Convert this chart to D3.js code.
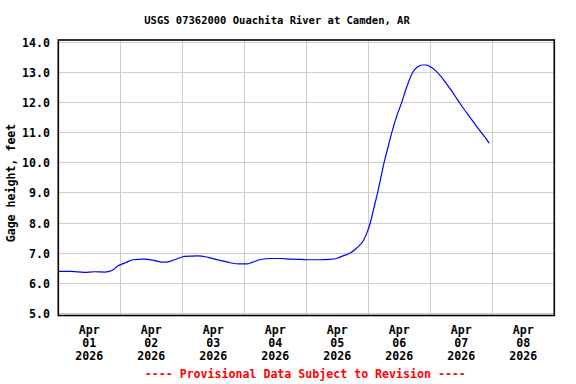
<!DOCTYPE html>
<html>
<head>
<meta charset="utf-8">
<script src="https://cdn.jsdelivr.net/npm/d3@7"></script>
<style>
  body { margin: 0; background: #ffffff; }
  text { font-family: "DejaVu Sans Mono", "Liberation Mono", monospace; font-weight: bold; }
</style>
</head>
<body>
<svg id="svg"></svg>
<script>
// gage height readings, Apr 01 - Apr 07 2026
const times = [
  "2026-04-01T00:00", "2026-04-01T05:00", "2026-04-01T10:00", "2026-04-01T14:00",
  "2026-04-01T18:00", "2026-04-01T20:45", "2026-04-01T23:00", "2026-04-02T02:00",
  "2026-04-02T05:00", "2026-04-02T09:00", "2026-04-02T13:00", "2026-04-02T16:00",
  "2026-04-02T18:30", "2026-04-02T21:00", "2026-04-03T01:00", "2026-04-03T06:00",
  "2026-04-03T10:00", "2026-04-03T14:30", "2026-04-03T18:30", "2026-04-03T22:00",
  "2026-04-04T01:00", "2026-04-04T03:00", "2026-04-04T06:00", "2026-04-04T10:00",
  "2026-04-04T14:00", "2026-04-04T18:00", "2026-04-04T22:00", "2026-04-05T01:00",
  "2026-04-05T05:00", "2026-04-05T09:00", "2026-04-05T12:00", "2026-04-05T14:00",
  "2026-04-05T17:00", "2026-04-05T19:30", "2026-04-05T22:00", "2026-04-05T23:30",
  "2026-04-06T00:45", "2026-04-06T02:10", "2026-04-06T03:35", "2026-04-06T04:50",
  "2026-04-06T06:05", "2026-04-06T07:35", "2026-04-06T09:05", "2026-04-06T11:00",
  "2026-04-06T12:55", "2026-04-06T15:00", "2026-04-06T17:10", "2026-04-06T19:00",
  "2026-04-06T21:00", "2026-04-06T22:30", "2026-04-07T00:00", "2026-04-07T01:50",
  "2026-04-07T03:50", "2026-04-07T05:40", "2026-04-07T07:35", "2026-04-07T09:35",
  "2026-04-07T11:30", "2026-04-07T14:05", "2026-04-07T16:40", "2026-04-07T19:20",
  "2026-04-07T21:50", "2026-04-07T22:50"
];
const gageHeight = [
  6.39, 6.39, 6.36, 6.38,
  6.37, 6.42, 6.57, 6.68,
  6.78, 6.80, 6.76, 6.70,
  6.71, 6.78, 6.89, 6.91,
  6.86, 6.76, 6.68, 6.64,
  6.64, 6.69, 6.78, 6.82,
  6.82, 6.80, 6.79, 6.78,
  6.78, 6.79, 6.83, 6.90,
  7.00, 7.17, 7.40, 7.68,
  8.00, 8.50, 9.00, 9.50,
  10.00, 10.50, 11.00, 11.55,
  12.00, 12.55, 13.00, 13.18,
  13.25, 13.25, 13.19, 13.08,
  12.90, 12.70, 12.47, 12.22,
  11.97, 11.66, 11.36, 11.05,
  10.77, 10.65
];
const yTicks = [5, 6, 7, 8, 9, 10, 11, 12, 13, 14];
const dayLabels = ["01", "02", "03", "04", "05", "06", "07", "08"];

const title = "USGS 07362000 Ouachita River at Camden, AR";
const yLabel = "Gage height, feet";
const footer = "---- Provisional Data Subject to Revision ----";

const svgWidth = 576;
const svgHeight = 384;
const plot = { left: 58.3, right: 554.3, top: 40, bottom: 315.5 };

let svg = d3.select("#svg");
let xScale, yScale;

const parseTime = d3.timeParse("%Y-%m-%dT%H:%M");

function initializeSVG() {
  svg.attr("width", svgWidth).attr("height", svgHeight);
  svg.selectAll("*").remove();

  xScale = d3.scaleTime()
    .domain([parseTime("2026-04-01T00:00"), parseTime("2026-04-09T00:00")])
    .range([plot.left, plot.right]);
  yScale = d3.scaleLinear().domain([4.927, 14.08]).range([plot.bottom, plot.top]);

  svg.append("text")
    .attr("x", 277)
    .attr("y", 24)
    .attr("text-anchor", "middle")
    .style("font-size", "10.5px")
    .text(title);
}

function drawChart() {
  const grid = svg.append("g")
    .attr("stroke", "#cccccc")
    .attr("stroke-width", 1)
    .attr("shape-rendering", "crispEdges");

  // horizontal grid + y labels
  grid.selectAll(".hgrid")
    .data(yTicks)
    .join("line")
    .attr("x1", plot.left)
    .attr("x2", plot.right)
    .attr("y1", d => yScale(d))
    .attr("y2", d => yScale(d));

  svg.append("g")
    .selectAll("text")
    .data(yTicks)
    .join("text")
    .attr("x", 50)
    .attr("y", d => yScale(d) + 4.5)
    .attr("text-anchor", "end")
    .style("font-size", "11.6px")
    .text(d => d3.format(".1f")(d));

  // vertical grid at midnight
  const days = d3.timeDay.range(parseTime("2026-04-02T00:00"), parseTime("2026-04-09T00:00"));
  grid.selectAll(".vgrid")
    .data(days)
    .join("line")
    .attr("x1", d => xScale(d))
    .attr("x2", d => xScale(d))
    .attr("y1", plot.top)
    .attr("y2", plot.bottom);

  // day labels centred at noon
  const noons = dayLabels.map(d => parseTime("2026-04-" + d + "T12:00"));
  const lbl = svg.append("g")
    .selectAll("text")
    .data(noons)
    .join("text")
    .attr("text-anchor", "middle")
    .style("font-size", "11.6px");
  lbl.append("tspan").attr("x", d => xScale(d)).attr("y", 333.5).text("Apr");
  lbl.append("tspan").attr("x", d => xScale(d)).attr("y", 346.8).text((d, i) => dayLabels[i]);
  lbl.append("tspan").attr("x", d => xScale(d)).attr("y", 360).text("2026");

  // the data line
  const data = times.map((t, i) => ({ t: parseTime(t), v: gageHeight[i] }));
  const line = d3.line()
    .x(d => xScale(d.t))
    .y(d => yScale(d.v))
    .curve(d3.curveMonotoneX);
  svg.append("path")
    .datum(data)
    .attr("d", line)
    .attr("fill", "none")
    .attr("stroke", "#0000ff")
    .attr("stroke-width", 1.2);

  // plot border
  svg.append("rect")
    .attr("x", plot.left)
    .attr("y", plot.top)
    .attr("width", plot.right - plot.left)
    .attr("height", plot.bottom - plot.top)
    .attr("fill", "none")
    .attr("stroke", "#000000")
    .attr("stroke-width", 1.6);

  svg.append("text")
    .attr("transform", "translate(15," + 183 + ") rotate(-90)")
    .attr("text-anchor", "middle")
    .style("font-size", "11.6px")
    .text(yLabel);

  svg.append("text")
    .attr("x", 305.3)
    .attr("y", 378)
    .attr("text-anchor", "middle")
    .attr("fill", "#ff0000")
    .style("font-size", "11.6px")
    .text(footer);
}

function initialize() {
  initializeSVG();
  drawChart();
}

initialize();
</script>
</body>
</html>
